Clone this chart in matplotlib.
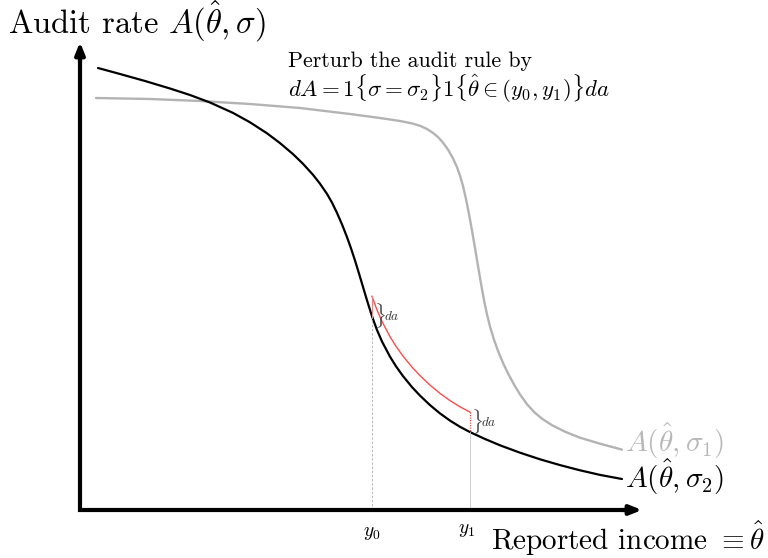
import numpy as np
import matplotlib
matplotlib.use("Agg")
import matplotlib.pyplot as plt

plt.rcParams['font.family'] = 'serif'
plt.rcParams['font.serif'] = ['cmr10', 'DejaVu Serif']
plt.rcParams['mathtext.fontset'] = 'cm'
plt.rcParams['axes.formatter.use_mathtext'] = True

# Schematic curves (x = reported income position, y = audit-rate position; axis inverted)
sigma2_x = [98, 120, 145, 170, 190, 210, 233, 250, 267, 280, 293, 303, 313, 320, 327, 332, 337, 342,
            347, 351, 355, 359, 363, 367, 372, 377, 382, 390, 396, 403, 412, 420, 430, 440, 450, 460,
            470, 485, 500, 520, 540, 560, 580, 600, 622]
sigma2_y = [68, 74, 81, 88.5, 95, 102.5, 112.9, 122.3, 133.3, 143.1, 154.1, 163.8, 174.8, 183.7,
            193.9, 202.6, 212.9, 224.4, 237.1, 248.3, 260.5, 273.5, 286.9, 300.3, 316.3, 330, 341.5,
            356.7, 366.3, 376.1, 387.1, 395.6, 405.1, 413.4, 420.6, 426.8, 432.1, 439, 445.3, 452.7,
            459.3, 465.1, 470.3, 474.9, 479]

sigma1_x = [96, 150, 200, 250, 300, 350, 380, 400, 412, 420, 427, 433, 438, 443, 448, 453, 457, 460,
            463, 466, 469, 472, 475, 478, 481, 484, 487, 490, 494, 498, 503, 508, 514, 520, 527, 534,
            542, 552, 565, 580, 600, 622]
sigma1_y = [98, 99, 101, 104, 108, 114, 118, 121, 123.4, 125.8, 129, 132.9, 137.1, 142.6, 149.6,
            158.4, 167.2, 175.6, 186.1, 199, 214, 230.5, 247.9, 265.9, 283.6, 300.1, 314.5, 326.5,
            339.7, 350.9, 362.9, 373.4, 384.5, 394.4, 404.2, 411.9, 418.7, 425.2, 431.7, 437.7,
            443.7, 449.6]

y0, y1 = 372, 470
da = 20
origin = (80, 510)
y_tip = 42
x_tip = 642

fig = plt.figure(figsize=(7.68, 5.58), dpi=100)
ax = fig.add_axes([0, 0, 1, 1])
ax.set_xlim(0, 768)
ax.set_ylim(558, 0)
ax.axis('off')

s2x = np.array(sigma2_x, float)
s2y = np.array(sigma2_y, float)

# curves
ax.plot(sigma1_x, sigma1_y, color='#b3b3b3', lw=1.7, solid_capstyle='round', solid_joinstyle='round')
ax.plot(s2x, s2y, color='black', lw=1.6, solid_capstyle='round', solid_joinstyle='round')

# perturbed segment
mask = (s2x >= y0) & (s2x <= y1)
rx = s2x[mask]
ry = s2y[mask] - da
ax.plot(rx, ry, color='#ff4a4a', lw=1.0, solid_joinstyle='round')
ax.plot([y0, y0], [ry[0], ry[0] + da], color='#f08080', lw=0.8)
ax.plot([y1, y1], [ry[-1], ry[-1] + da], color='#ff4a4a', lw=0.9, ls=(0, (1, 1)))

# guide lines
ax.plot([y0, y0], [ry[0] + da, origin[1]], color='#b0b0b0', lw=0.6, ls=(0, (3, 2)))
ax.plot([y1, y1], [ry[-1] + da, origin[1]], color='#c8c8c8', lw=0.6)

# axes with arrows
ax.plot([origin[0], origin[0], x_tip - 10], [y_tip + 10, origin[1], origin[1]], color='black', lw=3.0,
        solid_joinstyle='miter', solid_capstyle='butt')
ax.annotate('', xy=(origin[0], y_tip), xytext=(origin[0], y_tip + 20),
            arrowprops=dict(arrowstyle='-|>,head_length=0.7,head_width=0.28', color='black', lw=3.0,
                            shrinkA=0, shrinkB=0))
ax.annotate('', xy=(x_tip, origin[1]), xytext=(x_tip - 20, origin[1]),
            arrowprops=dict(arrowstyle='-|>,head_length=0.7,head_width=0.28', color='black', lw=3.0,
                            shrinkA=0, shrinkB=0))

# texts
ax.text(8, 34, r'Audit rate $A(\hat{\theta},\sigma)$', fontsize=23.5, ha='left', va='baseline')
ax.text(765, 550, r'Reported income $\equiv\hat{\theta}$', fontsize=21, ha='right', va='baseline')
ax.text(288, 67, 'Perturb the audit rule by', fontsize=15.8, ha='left', va='baseline')
ax.text(288, 97, r'$dA=1\{\sigma=\sigma_2\}1\{\hat{\theta}\in(y_0,y_1)\}da$', fontsize=16.5,
        ha='left', va='baseline')
ax.text(y0, 536, r'$y_0$', fontsize=14, ha='center', va='baseline')
ax.text(y1 - 3, 533, r'$y_1$', fontsize=14, ha='center', va='baseline')
ax.text(625, 452, r'$A(\hat{\theta},\sigma_1)$', fontsize=21, color='#b8b8b8', ha='left', va='baseline')
ax.text(625, 488, r'$A(\hat{\theta},\sigma_2)$', fontsize=21, color='black', ha='left', va='baseline')

# braces with da
ax.text(y0 + 2, 316, r'$\}$', fontsize=15, color='#444444', ha='left', va='center')
ax.text(y0 + 12, 316, r'$da$', fontsize=9.5, color='#333333', ha='left', va='center')
ax.text(y1 + 1, 422, r'$\}$', fontsize=15, color='#444444', ha='left', va='center')
ax.text(y1 + 11, 422, r'$da$', fontsize=9.5, color='#333333', ha='left', va='center')

fig.savefig('out.png', dpi=100)
